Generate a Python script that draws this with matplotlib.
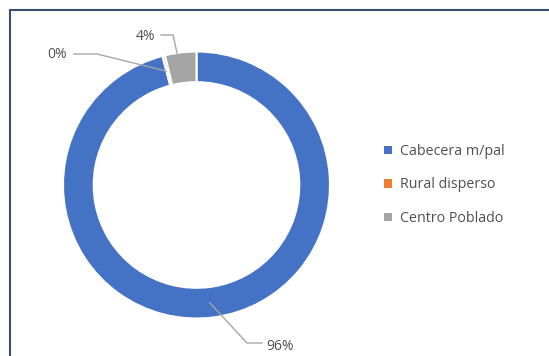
import matplotlib
matplotlib.use("Agg")
import matplotlib.pyplot as plt
from matplotlib.patches import Rectangle

categories = ["Cabecera m/pal", "Rural disperso", "Centro Poblado"]
values = [95.9, 0.3, 3.8]
colors = ["#4472C4", "#ED7D31", "#A5A5A5"]

# label positions in pixels of the reference (text centre, leader line points)
label_text = [f"{v:.0f}%" for v in values]
label_pos_px = [(280, 347), (57, 55), (146, 36)]
leader_px = [
    [(210, 303), (247, 343), (262, 343)],
    [(74, 54), (97, 54), (166, 71)],
    [(161, 35), (173, 35), (177, 53)],
]

W, H = 549, 356
cx, cy, R = 196.5, 185, 133.5

plt.rcParams["font.family"] = ["Open Sans", "DejaVu Sans"]

fig = plt.figure(figsize=(W / 100, H / 100), dpi=100)
fig.patch.set_facecolor("white")

# chart area border (cropped on right and bottom)
fig.patches.append(Rectangle((10 / W, -0.1), 1.0, 1.1 - 10 / H,
                             transform=fig.transFigure, fill=False,
                             edgecolor="#3B4E6E", linewidth=1.5))

ax = fig.add_axes([(cx - R) / W, (H - cy - R) / H, 2 * R / W, 2 * R / H])
ax.pie(values, colors=colors, startangle=90, counterclock=False, radius=1,
       wedgeprops=dict(width=0.23, edgecolor="white", linewidth=1.5))
ax.set_xlim(-1, 1)
ax.set_ylim(-1, 1)
ax.axis("off")


def to_data(p):
    return ((p[0] - cx) / R, (cy - p[1]) / R)


for txt, pos, line in zip(label_text, label_pos_px, leader_px):
    pts = [to_data(p) for p in line]
    ax.plot([p[0] for p in pts], [p[1] for p in pts], color="#A6A6A6",
            linewidth=1, clip_on=False)
    x, y = to_data(pos)
    ax.text(x, y, txt, ha="center", va="center", fontsize=10,
            color="#505050", clip_on=False)

handles = [Rectangle((0, 0), 1, 1, facecolor=c) for c in colors]
fig.legend(handles, categories, loc="center left",
           bbox_to_anchor=(371 / W, (H - 185) / H), frameon=False,
           fontsize=10.3, handlelength=0.55, handleheight=0.55,
           handletextpad=0.55, labelspacing=1.3, labelcolor="#505050")

fig.savefig("out.png", dpi=100)
